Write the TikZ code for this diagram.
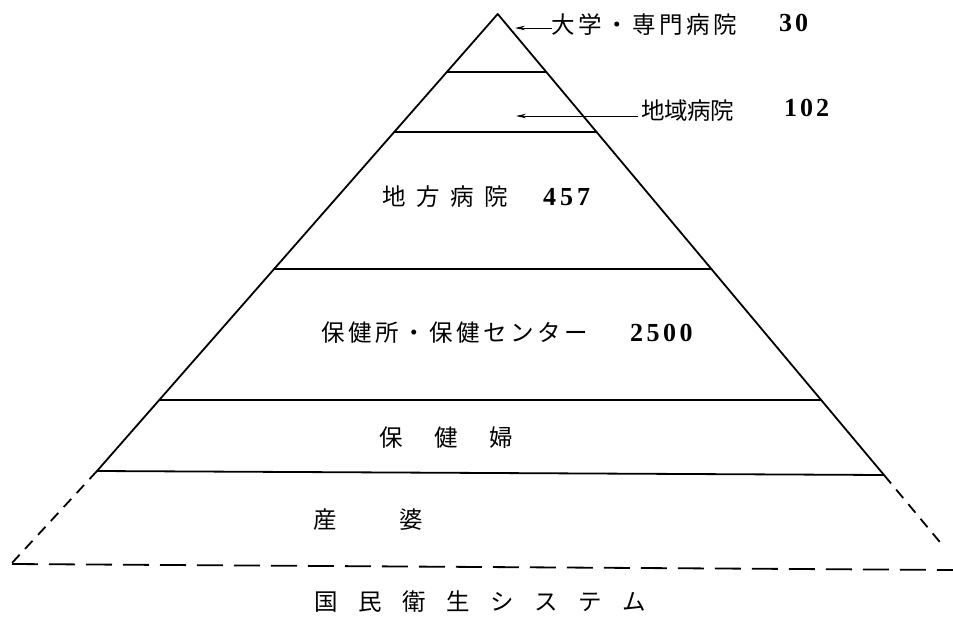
\documentclass[tikz,border=0pt]{standalone}
\usepackage{fontspec}
\newfontfamily\jpfont{Noto Sans CJK JP}
\newfontfamily\numfont{Liberation Serif}
\usetikzlibrary{arrows.meta}
\makeatletter
\newcommand\pitched[2]{\def\pitchw{#1}\pitch@loop#2\relax}
\def\pitch@loop#1{\ifx\relax#1\else\makebox[\pitchw][l]{#1}\expandafter\pitch@loop\fi}
\makeatother
\tikzset{
  edge/.style={line width=1.8pt, line cap=round, line join=round},
  ext/.style={line width=1.8pt, dash pattern=on 11pt off 8pt},
  basedash/.style={line width=1.8pt, dash pattern=on 26pt off 11pt},
  pointer/.style={line width=0.9pt, -{Stealth[length=10pt,width=4.5pt]}},
  jp/.style={font=\jpfont\fontsize{23.5}{26}\selectfont, inner sep=0pt, anchor=west},
  num/.style={font=\numfont\bfseries\fontsize{26}{28}\selectfont, inner sep=0pt, anchor=west},
}
\begin{document}
\begin{tikzpicture}[x=1pt,y=-1pt]
\useasboundingbox (0,0) rectangle (953,621);
% main triangle corners
\coordinate (A) at (497.7,14);
\coordinate (L) at (97,471);
\coordinate (R) at (884,475);
% tier lines
\coordinate (l1) at (446.8,72);  \coordinate (r1) at (546.3,72);
\coordinate (l2) at (394.2,132); \coordinate (r2) at (596.6,132);
\coordinate (l3) at (274.1,269); \coordinate (r3) at (711.4,269);
\coordinate (l4) at (159.3,400); \coordinate (r4) at (821.2,400);
% dashed extension
\coordinate (LL) at (12,563);
\coordinate (RR) at (944,547);
\coordinate (B1) at (12,564);
\coordinate (B2) at (953,570);

\draw[edge] (L) -- (A) -- (R) -- cycle;
\draw[edge] (l1) -- (r1);
\draw[edge] (l2) -- (r2);
\draw[edge] (l3) -- (r3);
\draw[edge] (l4) -- (r4);
\draw[ext] (L) -- (LL);
\draw[ext] (R) -- (RR);
\draw[basedash] (B1) -- (B2);

% labels
\node[jp] (t1) at (551,25) {\pitched{27pt}{大学・専門病院}};
\node[num] (n1) at (779,23) {\pitched{16pt}{30}};
\node[jp] (t2) at (641,111) {\pitched{23pt}{地域病院}};
\node[num] (n2) at (784,108) {\pitched{16pt}{102}};
\node[jp] (t3) at (382,197) {\pitched{34pt}{地方病院}};
\node[num] (n3) at (543,197) {\pitched{17pt}{457}};
\node[jp] (t4) at (321,333) {\pitched{27pt}{保健所・保健センター}};
\node[num] (n4) at (630,333) {\pitched{16.5pt}{2500}};
\node[jp] (t5) at (379,438) {\pitched{55pt}{保健婦}};
\node[jp] (t6) at (313,520) {\pitched{86pt}{産婆}};
\node[jp] (t7) at (314,602) {\pitched{44pt}{国民衛生システム}};

% pointers
\coordinate (s1) at (552,28);
\coordinate (p1) at (515,28);
\coordinate (s2) at (638,116);
\coordinate (p2) at (516,116);
\draw[pointer] (s1) -- (p1);
\draw[pointer] (s2) -- (p2);
\end{tikzpicture}
\end{document}
